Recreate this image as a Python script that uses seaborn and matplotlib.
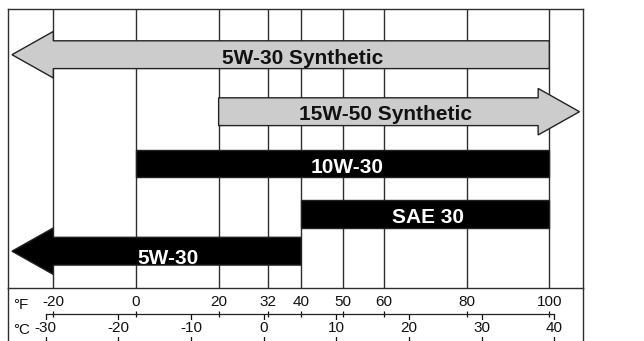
import numpy as np
import pandas as pd
import matplotlib
matplotlib.use("Agg")
import matplotlib.pyplot as plt
from matplotlib.patches import Polygon
import seaborn as sns

# ---------------- data ----------------
oils = ["5W-30 Synthetic", "15W-50 Synthetic", "10W-30", "SAE 30", "5W-30"]
start_f = [-30, 20, 0, 40, -30]          # °F (open ranges run to the chart edge)
end_f = [100, 107.3, 100, 100, 40]       # °F
arrow_dir = ["left", "right", "none", "none", "left"]
fill_colors = ["#cccccc", "#cccccc", "#000000", "#000000", "#000000"]
text_colors = ["#111111", "#111111", "#ffffff", "#ffffff", "#ffffff"]
grid_f = [-20, 0, 20, 32, 40, 50, 60, 80, 100]
ticks_f = [-20, 0, 20, 32, 40, 50, 60, 80, 100]
ticks_c = [-30, -20, -10, 0, 10, 20, 30, 40]

# ---------------- layout ----------------
W, H = 644, 341
row_pos = [45.7, 102.7, 154.5, 205.2, 242.2]   # row centres, px below top frame
label_x = [40.3, 60.3, 51.0, 70.7, 7.7]        # label centres in °F
label_dy = [9.3, 8.3, 9.2, 9.1, 12.3]          # baseline offset, px
body_h = 27.8
head_h = 46.5
head_len = 10.0
xlim = (-30.96, 108.08)
line_col = "#2e2e2e"
scale_fs = 11

# °C scale as drawn on the chart (in °F units of the x axis)
def c_to_f(c):
    return 30.9 + 1.757 * np.asarray(c, dtype=float)

def f_to_c(f):
    return (np.asarray(f, dtype=float) - 30.9) / 1.757

sns.set_theme(style="white")
plt.rcParams["font.family"] = ["Liberation Sans", "DejaVu Sans"]
plt.rcParams["axes.unicode_minus"] = False
plt.rcParams["lines.solid_capstyle"] = "butt"

fig = plt.figure(figsize=(W / 100, H / 100), dpi=100)
fig.patch.set_facecolor("white")
ax = fig.add_axes([8 / W, 1 - 288 / H, 574.7 / W, 279 / H])
axb = fig.add_axes([8 / W, 1 - 361 / H, 574.7 / W, 73 / H])

# ---------- bar bodies (seaborn) ----------
body_left, body_span = [], []
for s, e, d in zip(start_f, end_f, arrow_dir):
    lo = s + head_len if d == "left" else s
    hi = e - head_len if d == "right" else e
    body_left.append(lo)
    body_span.append(hi - lo)

df = pd.DataFrame({"oil": oils, "pos": row_pos, "left": body_left, "span": body_span})
sns.barplot(data=df, x="span", y="pos", orient="y", native_scale=True,
            left=df["left"].to_numpy(),
            width=body_h / np.min(np.diff(row_pos)),
            color="#000000", linewidth=0, edgecolor="none",
            errorbar=None, ax=ax, zorder=2)
for patch, c in zip(ax.patches, fill_colors):
    patch.set_facecolor(c)
    patch.set_edgecolor("none")

# ---------- arrow heads and outlines ----------
for y, s, e, d, c in zip(row_pos, start_f, end_f, arrow_dir, fill_colors):
    top, bot = y - body_h / 2, y + body_h / 2
    htop, hbot = y - head_h / 2, y + head_h / 2
    if d == "left":
        tip, base, inner = s, s + head_len, s + head_len + 0.6
        outline = [(e, top), (base, top), (base, htop), (tip, y),
                   (base, hbot), (base, bot), (e, bot)]
    elif d == "right":
        tip, base, inner = e, e - head_len, e - head_len - 0.6
        outline = [(s, top), (base, top), (base, htop), (tip, y),
                   (base, hbot), (base, bot), (s, bot)]
    else:
        outline = [(s, top), (e, top), (e, bot), (s, bot)]
    if d != "none":
        head = [(inner, top), (base, top), (base, htop), (tip, y),
                (base, hbot), (base, bot), (inner, bot)]
        ax.add_patch(Polygon(head, closed=True, facecolor=c, edgecolor="none",
                             linewidth=0, zorder=2.1))
    ax.add_patch(Polygon(outline, closed=True, fill=False, edgecolor="#222222",
                         linewidth=1.0, zorder=2.5, joinstyle="miter"))

# ---------- labels ----------
for name, lx, y, dy, tc in zip(oils, label_x, row_pos, label_dy, text_colors):
    ax.text(lx, y + dy, name, ha="center", va="baseline", color=tc,
            fontsize=15, fontweight="bold", zorder=3)

# ---------- main axes styling ----------
ax.set_xlim(*xlim)
ax.set_ylim(279, 0)
ax.set_xticks(grid_f)
ax.set_yticks([])
ax.tick_params(axis="x", which="both", length=0, labelbottom=False,
               top=False, bottom=False)
ax.grid(True, axis="x", color=line_col, linewidth=1.0, solid_capstyle="butt")
ax.grid(False, axis="y")
ax.set_axisbelow(True)
ax.set_xlabel("")
ax.set_ylabel("")
for sp in ax.spines.values():
    sp.set_visible(True)
    sp.set_color(line_col)
    sp.set_linewidth(1.0)

# ---------- temperature scale ----------
axb.set_xlim(*xlim)
axb.set_ylim(73, 0)
axb.patch.set_visible(False)
axb.set_xticks([])
axb.set_yticks([])
axb.grid(False)
for side in ["top", "bottom"]:
    axb.spines[side].set_visible(False)
for side in ["left", "right"]:
    axb.spines[side].set_visible(True)
    axb.spines[side].set_color(line_col)
    axb.spines[side].set_linewidth(1.0)

loc = (361 - 314) / 73

sf = axb.secondary_xaxis(loc)
sf.set_xticks(ticks_f)
sf.set_xticklabels([str(t) for t in ticks_f])
sf.tick_params(axis="x", direction="inout", length=4.7, width=0.9, pad=1.3,
               labelsize=scale_fs, colors="#111111")
for sp in sf.spines.values():
    sp.set_visible(False)

sc = axb.secondary_xaxis(loc, functions=(f_to_c, c_to_f))
sc.set_alignment("bottom")
sc.set_xticks(ticks_c)
sc.set_xticklabels([str(t) for t in ticks_c])
sc.tick_params(axis="x", direction="out", length=24, width=0.9,
               pad=7.5 / 1.389 - 24, labelsize=scale_fs, colors="#111111")
sc.spines["top"].set_visible(False)
sc.spines["bottom"].set_visible(True)
sc.spines["bottom"].set_bounds(ticks_c[0], ticks_c[-1])
sc.spines["bottom"].set_color("#222222")
sc.spines["bottom"].set_linewidth(0.9)
for t in sc.xaxis.get_major_ticks():
    t.label1.set_bbox(dict(facecolor="white", edgecolor="none", pad=1.0))

axb.text(-29.6, 21, "°F", ha="left", va="baseline", fontsize=scale_fs, color="#111111")
axb.text(-29.6, 45.5, "°C", ha="left", va="baseline", fontsize=scale_fs, color="#111111")

fig.savefig("out.png", dpi=100)
